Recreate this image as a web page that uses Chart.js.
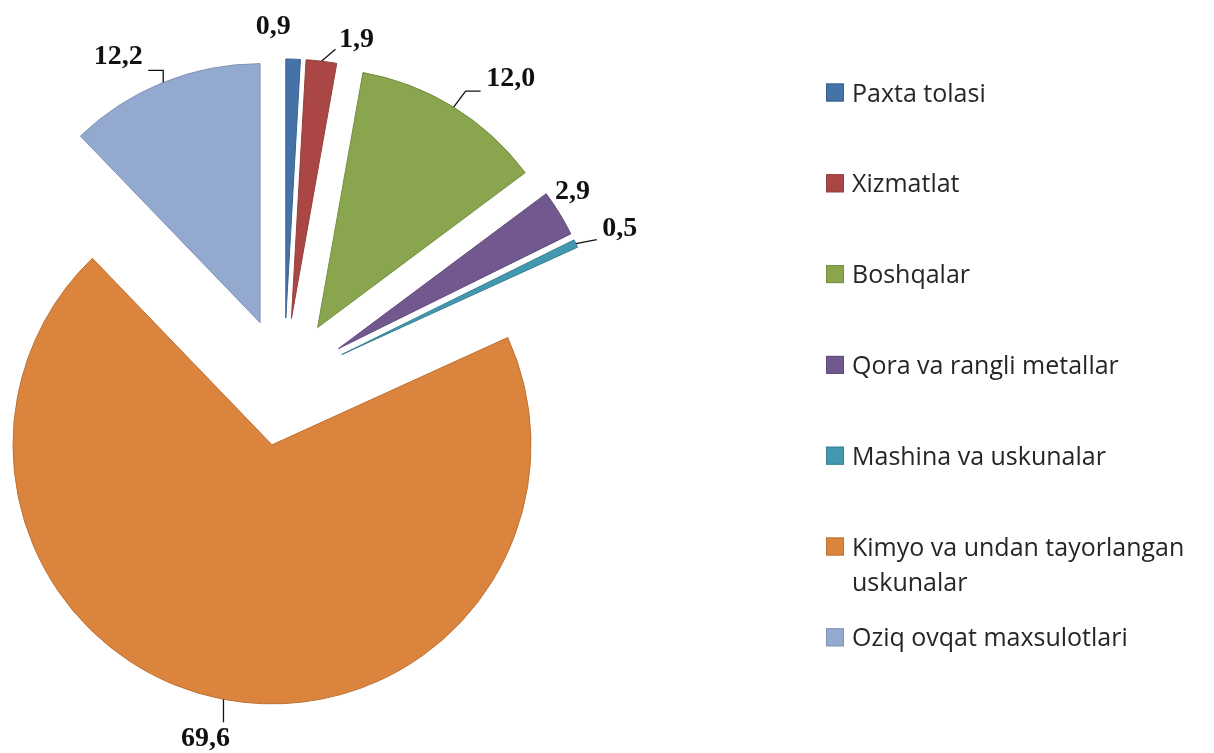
<!DOCTYPE html>
<html>
<head>
<meta charset="utf-8">
<script src="https://cdn.jsdelivr.net/npm/chart.js@4.4.0/dist/chart.umd.min.js"></script>
<style>
    html, body { margin: 0; padding: 0; background: #fff; }
    #wrap { width: 1214px; height: 753px; }
</style>
</head>
<body>
<div id="wrap"><canvas id="chart-eksport" width="1214" height="753"></canvas></div>
<script>
const categories = [
    "Paxta tolasi",
    "Xizmatlat",
    "Boshqalar",
    "Qora va rangli metallar",
    "Mashina va uskunalar",
    ["Kimyo va undan tayorlangan", "uskunalar"],
    "Oziq ovqat maxsulotlari",
];
const shares = [0.9, 1.9, 12.0, 2.9, 0.5, 69.6, 12.2];
const valueLabels = shares.map((v) => v.toFixed(1).replace(".", ","));

const fillColors = ["#4572A7", "#AA4643", "#89A54E", "#71588F", "#4198AF", "#DB843D", "#93A9CF"];
const edgeColors = ["#3B6290", "#93403D", "#768F43", "#614C7B", "#387F93", "#BD7235", "#7F93B5"];

// label position relative to the outer edge of each slice, plus leader line
const labelPlacement = [
    { dx: -20, dy: -32, leader: [] },
    { dx: 35, dy: -21, leader: [[0, 0], [14, -12]] },
    { dx: 57, dy: -28, leader: [[0, 0], [12, -16], [27, -16]] },
    { dx: 13, dy: -21, leader: [] },
    { dx: 44, dy: -15, leader: [[0, 0], [21, -4]] },
    { dx: -18, dy: 39, leader: [[0, 0], [0, 23]] },
    { dx: -45, dy: -26, leader: [[0, 0], [0, -12], [-15, -12]] },
];

const explodePlugin = {
    id: "explode",
    beforeDatasetDraw(chart, args, opts) {
        const ctx = chart.ctx;
        args.meta.data.forEach((arc) => {
            const mid = (arc.startAngle + arc.endAngle) / 2;
            ctx.save();
            ctx.translate(Math.cos(mid) * opts.distance, Math.sin(mid) * opts.distance);
            arc.draw(ctx);
            ctx.restore();
        });
        return false;
    },
};

const valueLabelPlugin = {
    id: "valueLabels",
    afterDatasetsDraw(chart, args, opts) {
        const ctx = chart.ctx;
        const dist = chart.options.plugins.explode.distance;
        chart.getDatasetMeta(0).data.forEach((arc, i) => {
            const mid = (arc.startAngle + arc.endAngle) / 2;
            const r = arc.outerRadius + dist;
            const ax = arc.x + Math.cos(mid) * r;
            const ay = arc.y + Math.sin(mid) * r;
            const place = labelPlacement[i];
            ctx.save();
            if (place.leader.length) {
                ctx.strokeStyle = "#111";
                ctx.lineWidth = 1.3;
                ctx.beginPath();
                place.leader.forEach(([px, py], k) => {
                    if (k === 0) ctx.moveTo(ax + px, ay + py);
                    else ctx.lineTo(ax + px, ay + py);
                });
                ctx.stroke();
            }
            ctx.fillStyle = "#111";
            ctx.font = "bold 28px 'Liberation Serif'";
            ctx.textAlign = "center";
            ctx.textBaseline = "middle";
            ctx.fillText(valueLabels[i], ax + place.dx, ay + place.dy);
            ctx.restore();
        });
    },
};

const sideLegendPlugin = {
    id: "sideLegend",
    afterDraw(chart, args, opts) {
        const ctx = chart.ctx;
        ctx.save();
        ctx.font = "25px 'Open Sans'";
        ctx.textBaseline = "middle";
        ctx.textAlign = "left";
        categories.forEach((label, i) => {
            const y = opts.top + i * opts.step;
            ctx.fillStyle = fillColors[i];
            ctx.fillRect(opts.left, y - 9, 18, 18);
            ctx.strokeStyle = edgeColors[i];
            ctx.lineWidth = 1;
            ctx.strokeRect(opts.left + 0.5, y - 8.5, 17, 17);
            ctx.fillStyle = "#262626";
            const lines = Array.isArray(label) ? label : [label];
            lines.forEach((line, k) => {
                ctx.fillText(line, opts.left + 26, y + 2 + k * 35);
            });
        });
        ctx.restore();
    },
};

const ctx = document.getElementById("chart-eksport").getContext("2d");
new Chart(ctx, {
    type: "pie",
    data: {
        labels: categories,
        datasets: [
            {
                data: shares,
                backgroundColor: fillColors,
                borderColor: edgeColors,
                borderWidth: 1,
            },
        ],
    },
    options: {
        responsive: false,
        animation: false,
        events: [],
        radius: 259,
        layout: {
            padding: { left: 0, right: 646, top: 11, bottom: 0 },
        },
        plugins: {
            legend: { display: false },
            tooltip: { enabled: false },
            explode: { distance: 64 },
            sideLegend: { left: 826, top: 92.5, step: 90.8 },
        },
    },
    plugins: [explodePlugin, valueLabelPlugin, sideLegendPlugin],
});
</script>
</body>
</html>
